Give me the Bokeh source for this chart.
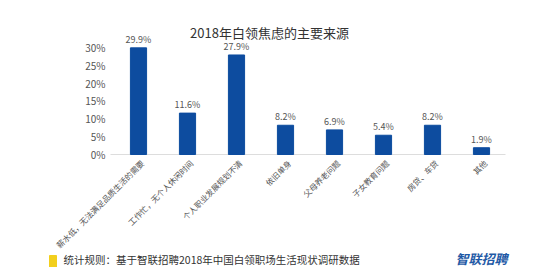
from bokeh.plotting import figure
from bokeh.models import Range1d, ColumnDataSource
from bokeh.embed import file_html
from bokeh.resources import INLINE
from bokeh.core.properties import value

categories = ["薪水低，无法满足品质生活的需要", "工作忙，无个人休闲时间", "个人职业发展规划不清",
              "依旧单身", "父母养老问题", "子女教育问题", "房贷、车贷", "其他"]
values = [29.9, 11.6, 27.9, 8.2, 6.9, 5.4, 8.2, 1.9]
y_ticks = [0, 5, 10, 15, 20, 25, 30]
title = "2018年白领焦虑的主要来源"
footer = "统计规则：基于智联招聘2018年中国白领职场生活现状调研数据"
logo = "智联招聘"

FONT = "Noto Sans CJK SC"
GRAY = "#555555"

# pixel <-> data mapping: x_px = 138 + 49*i ; y_px = 154 - 3.567*v
X0, XS = 138.0, 49.0
Y0, YS = 154.0, 3.567
def dx(px):
    return (px - X0) / XS
def dy(py):
    return (Y0 - py) / YS

xs = list(range(len(categories)))
src = ColumnDataSource(dict(x=xs, top=values, lab=[f"{v:.1f}%" for v in values],
                            cat=categories, zero=[0] * len(xs)))

p = figure(width=547, height=267, output_backend="svg", toolbar_location=None,
           x_range=Range1d(dx(0), dx(547)), y_range=Range1d(dy(267), dy(0)),
           min_border=0, min_border_left=0, min_border_right=0, min_border_top=0,
           min_border_bottom=0, background_fill_color="white", border_fill_color="white",
           outline_line_color=None)
p.grid.visible = False
p.axis.visible = False

# baseline
p.segment(x0=[dx(110)], y0=[0], x1=[dx(505)], y1=[0], line_color="#dddddd", line_width=1)

# bars
p.vbar(x="x", top="top", width=0.33, source=src, color="#0d4c9f")
p.text(x="x", y="top", text="lab", source=src, text_align="center", text_baseline="bottom",
       y_offset=-2, text_font=value(FONT), text_font_size="9px", text_color=GRAY)

# y tick labels
p.text(x=[dx(105)] * len(y_ticks), y=y_ticks, text=[f"{t}%" for t in y_ticks],
       text_align="right", text_baseline="middle", text_font=value(FONT),
       text_font_size="10px", text_color=GRAY)

# category labels (rotated 45 degrees)
p.text(x="x", y="zero", text="cat", source=src, angle=0.785398, text_align="right",
       text_baseline="middle", x_offset=4, y_offset=7, text_font=value(FONT),
       text_font_size="8px", text_color=GRAY)

# title
p.text(x=[dx(269)], y=[dy(32)], text=[title], text_align="center", text_baseline="middle",
       text_font=value(FONT), text_font_size="13px", text_color="#333333")

# footer
p.quad(left=[dx(49)], right=[dx(56)], bottom=[dy(267)], top=[dy(255)], color="#f2cf1d")
p.text(x=[dx(63)], y=[dy(259)], text=[footer], text_align="left", text_baseline="middle",
       text_font=value(FONT), text_font_size="10.5px", text_color="#333333")
p.text(x=[dx(481)], y=[dy(258)], text=[logo], text_align="center", text_baseline="middle",
       text_font=value(FONT), text_font_size="13px", text_font_style="bold italic",
       text_color="#1f5aa6")

open("out.html", "w").write(file_html(p, INLINE))
